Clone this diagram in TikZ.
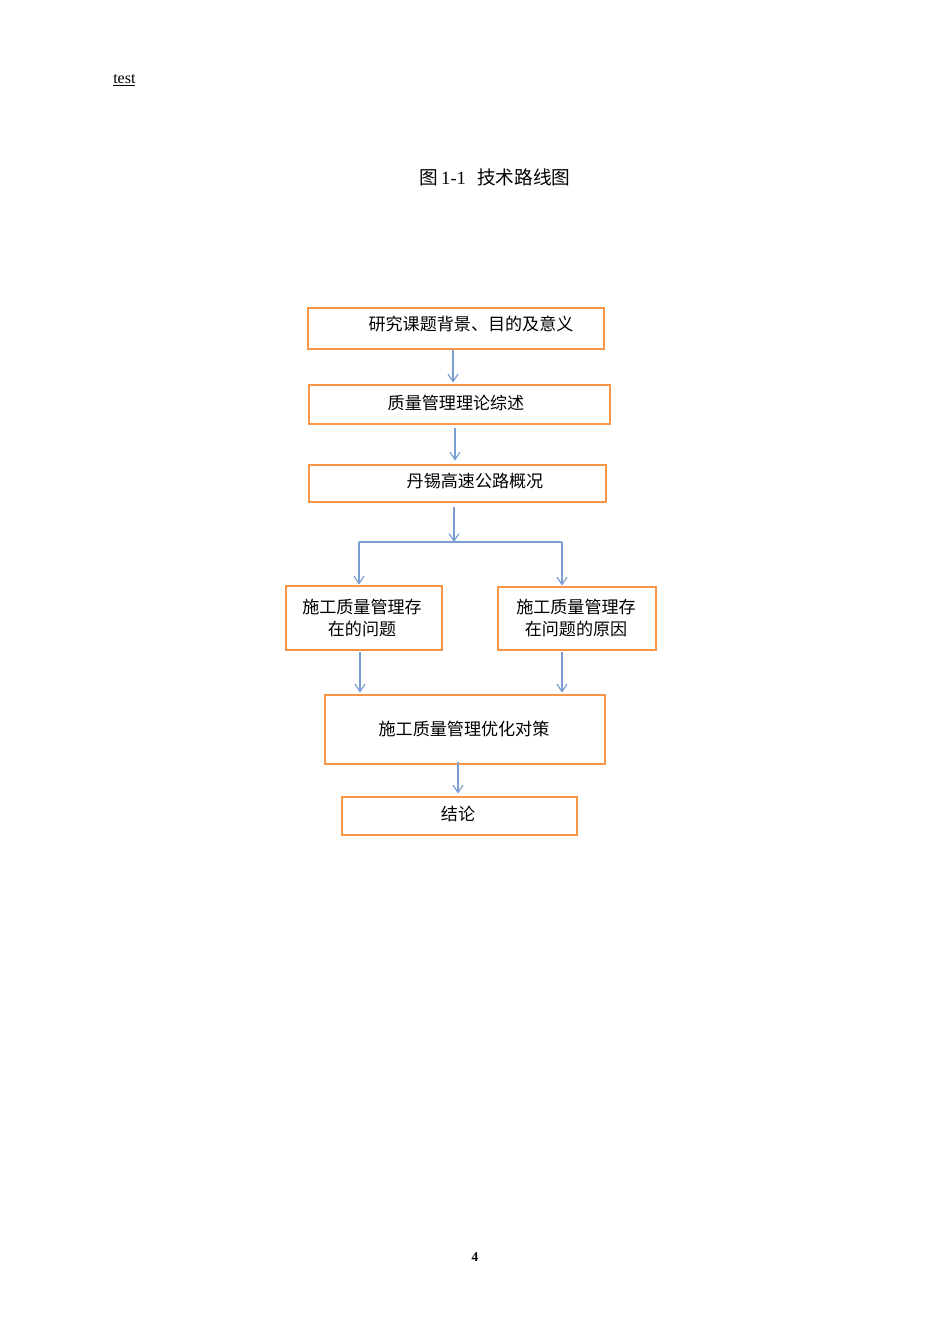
\documentclass[tikz,border=0pt]{standalone}
\usepackage{fontspec}
\setmainfont{Liberation Serif}
\newfontfamily\cjk{Noto Sans CJK SC}
\usetikzlibrary{arrows.meta,calc}
\newdimen\pxu \pxu=0.75pt
\definecolor{boxorange}{HTML}{F79646}
\definecolor{arrblue}{HTML}{7A9ED2}
\tikzset{
  box/.style={draw=boxorange, line width=2.1pt, rectangle, inner sep=0pt},
  txt/.style={font=\cjk\fontsize{12.8pt}{16.5pt}\selectfont, align=center, inner sep=0pt},
  arr/.style={draw=arrblue, line width=0.9pt, -{Straight Barb[length=5.5pt,width=7.5pt,line width=0.9pt]}}
}
\begin{document}
\begin{tikzpicture}[x=0.75pt,y=-0.75pt]
\useasboundingbox (0,0) rectangle (950,1344);
% header and caption
\node[anchor=west, inner sep=0pt, font=\fontsize{12pt}{14pt}\selectfont] (hdr) at (113,80) {\underline{test}};
\node[inner sep=0pt] (cap) at (495,177) {\fontsize{14pt}{16pt}\selectfont{\cjk 图}\,1-1\hspace{0.6em}{\cjk 技术路线图}};
\node[inner sep=0pt, font=\bfseries\fontsize{10pt}{12pt}\selectfont] (pg) at (475,1257) {4};
% boxes
\node[box, minimum width=296\pxu, minimum height=41\pxu] (b1) at (456,328.5) {};
\node[box, minimum width=301\pxu, minimum height=39\pxu] (b2) at (459.5,404.5) {};
\node[box, minimum width=297\pxu, minimum height=37\pxu] (b3) at (457.5,483.5) {};
\node[box, minimum width=156\pxu, minimum height=64\pxu] (b4) at (364,618) {};
\node[box, minimum width=158\pxu, minimum height=63\pxu] (b5) at (577,618.5) {};
\node[box, minimum width=280\pxu, minimum height=69\pxu] (b6) at (465,729.5) {};
\node[box, minimum width=235\pxu, minimum height=38\pxu] (b7) at (459.5,816) {};
% texts
\node[txt] (t1) at (471,324) {研究课题背景、目的及意义};
\node[txt] (t2) at (456,403) {质量管理理论综述};
\node[txt] (t3) at (475,481) {丹锡高速公路概况};
\node[txt] (t4) at (362,618) {施工质量管理存\\在的问题};
\node[txt] (t5) at (576,618) {施工质量管理存\\在问题的原因};
\node[txt] (t6) at (464,729) {施工质量管理优化对策};
\node[txt] (t7) at (458,814) {结论};
% connectors
\coordinate (jl) at (359,542);
\coordinate (jr) at (562,542);
\coordinate (jc) at (454,542);
\draw[arr] ($(b1.south)+(-3,0)$) -- ($(b2.north)+(-6.5,-1)$);
\draw[arr] ($(b2.south)+(-4.5,3)$) -- ($(b3.north)+(-2.5,-3)$);
\draw[arr] ($(b3.south)+(-3.5,4)$) -- (jc);
\draw[draw=arrblue, line width=0.9pt] (jl) -- (jr);
\draw[arr] (jl) -- (jl |- b4.north);
\draw[arr] (jr) -- (jr |- b5.north);
\draw[arr] ($(b4.south)+(-4,1)$) -- ($(b4.south |- b6.north)+(-4,-1)$);
\draw[arr] ($(b5.south)+(-15,1)$) -- ($(b5.south |- b6.north)+(-15,-1)$);
\draw[arr] ($(b6.south)+(-7,-3)$) -- ($(b7.north)+(-1.5,-2)$);
\end{tikzpicture}
\end{document}
